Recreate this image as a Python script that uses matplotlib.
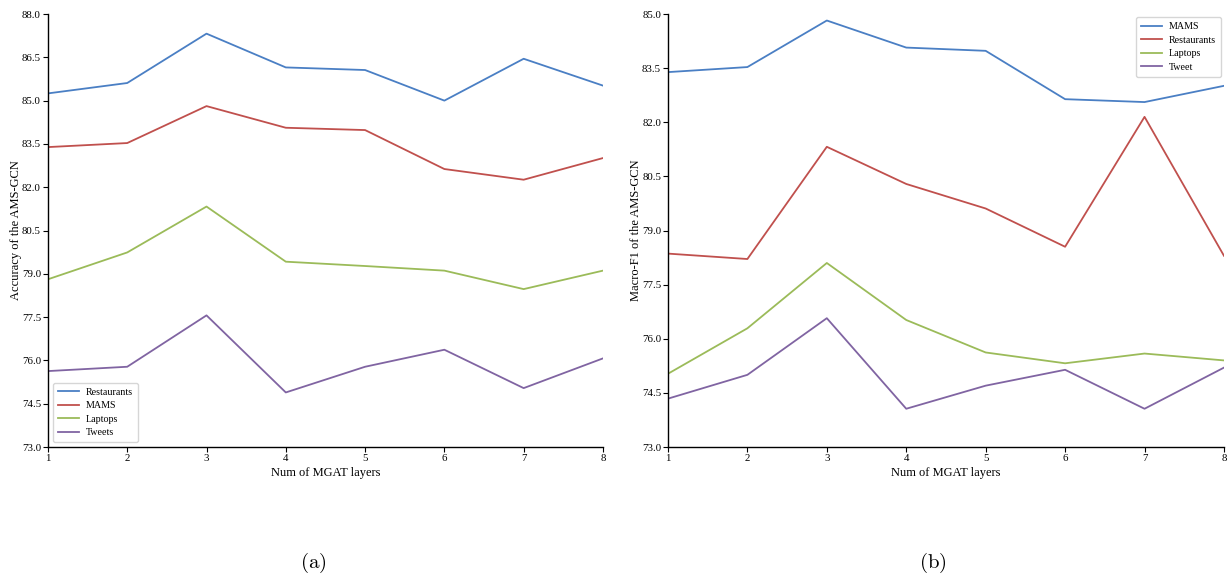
import matplotlib
matplotlib.use("Agg")
import matplotlib.pyplot as plt
import numpy as np

layers = [1, 2, 3, 4, 5, 6, 7, 8]

# (a) Accuracy
acc_restaurants = [85.25, 85.61, 87.32, 86.15, 86.06, 85.00, 86.45, 85.52]
acc_mams = [83.39, 83.53, 84.81, 84.06, 83.98, 82.63, 82.26, 83.01]
acc_laptops = [78.81, 79.74, 81.33, 79.42, 79.27, 79.11, 78.47, 79.11]
acc_tweets = [75.63, 75.78, 77.56, 74.89, 75.78, 76.37, 75.04, 76.07]

# (b) Macro-F1
f1_mams = [83.39, 83.53, 84.82, 84.07, 83.98, 82.64, 82.56, 83.01]
f1_restaurants = [78.36, 78.21, 81.32, 80.29, 79.61, 78.55, 82.15, 78.30]
f1_laptops = [75.03, 76.29, 78.10, 76.52, 75.62, 75.32, 75.59, 75.40]
f1_tweet = [74.34, 75.00, 76.57, 74.06, 74.70, 75.14, 74.06, 75.20]

left_yticks = [73.0, 74.5, 76.0, 77.5, 79.0, 80.5, 82.0, 83.5, 85.0, 86.5, 88.0]
right_yticks = [73.0, 74.5, 76.0, 77.5, 79.0, 80.5, 82.0, 83.5, 85.0]

BLUE = '#4a7fc4'
RED = '#c0504d'
GREEN = '#9bbb59'
PURPLE = '#8064a2'

plt.rcParams['font.family'] = ['Liberation Serif', 'DejaVu Serif']
plt.rcParams['mathtext.fontset'] = 'cm'

fig = plt.figure(figsize=(12.29, 5.77), dpi=100)
ax1 = fig.add_axes([0.039, 0.2253, 0.4516, 0.7504])
ax2 = fig.add_axes([0.5435, 0.2253, 0.4524, 0.7504])

def style(ax, yticks, ylabel):
    ax.set_xlim(1, 8)
    ax.set_ylim(yticks[0], yticks[-1])
    ax.set_xticks(layers)
    ax.set_yticks(yticks)
    ax.set_yticklabels([f"{v:.1f}" for v in yticks])
    ax.tick_params(labelsize=7.8, length=3.5, width=0.8, direction='out', pad=1.5)
    for s in ['top', 'right']:
        ax.spines[s].set_visible(False)
    for s in ['left', 'bottom']:
        ax.spines[s].set_linewidth(1.0)
    ax.set_xlabel("Num of MGAT layers", fontsize=9, labelpad=3)
    ax.set_ylabel(ylabel, fontsize=9, labelpad=0)

lw = 1.3
ax1.plot(layers, acc_restaurants, color=BLUE, lw=lw, label='Restaurants')
ax1.plot(layers, acc_mams, color=RED, lw=lw, label='MAMS')
ax1.plot(layers, acc_laptops, color=GREEN, lw=lw, label='Laptops')
ax1.plot(layers, acc_tweets, color=PURPLE, lw=lw, label='Tweets')
style(ax1, left_yticks, "Accuracy of the AMS-GCN")
ax1.legend(loc='lower left', fontsize=7.2, frameon=True, fancybox=True,
           handlelength=2.1, handletextpad=0.7, borderpad=0.5, labelspacing=0.45)

ax2.plot(layers, f1_mams, color=BLUE, lw=lw, label='MAMS')
ax2.plot(layers, f1_restaurants, color=RED, lw=lw, label='Restaurants')
ax2.plot(layers, f1_laptops, color=GREEN, lw=lw, label='Laptops')
ax2.plot(layers, f1_tweet, color=PURPLE, lw=lw, label='Tweet')
style(ax2, right_yticks, "Macro-F1 of the AMS-GCN")
ax2.legend(loc='upper right', fontsize=7.2, frameon=True, fancybox=True,
           handlelength=2.1, handletextpad=0.7, borderpad=0.5, labelspacing=0.45,
           bbox_to_anchor=(1.0, 1.0), borderaxespad=0.3)

fig.text(313 / 1229, 1 - 563 / 577, r'$\mathrm{(a)}$', fontsize=15, ha='center', va='center')
fig.text(933 / 1229, 1 - 563 / 577, r'$\mathrm{(b)}$', fontsize=15, ha='center', va='center')

fig.savefig("out.png", dpi=100)
